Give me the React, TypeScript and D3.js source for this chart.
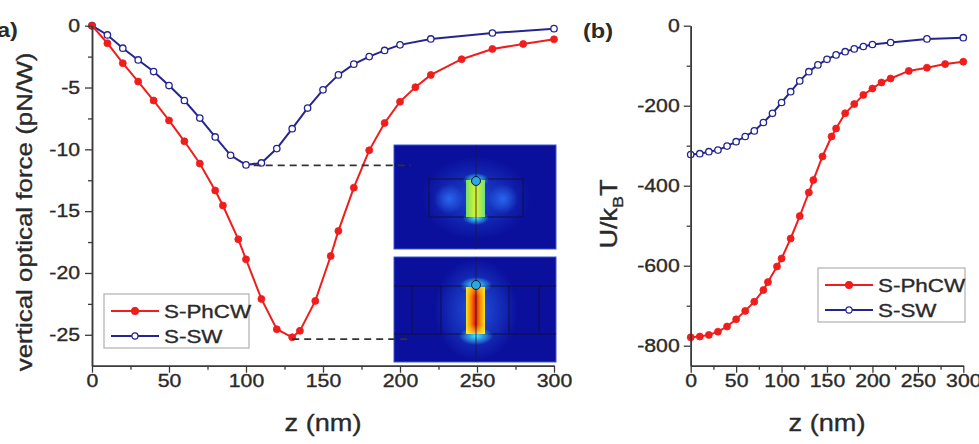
import React, { useRef, useEffect } from 'react'
import * as d3 from 'd3'

// z positions (nm)
const zSW = [0, 10, 20, 30, 40, 50, 60, 70, 80, 90, 100, 110, 120, 130, 140, 150, 160, 170, 180, 190, 200, 220, 260, 300]
const zPhCW = [0, 10, 20, 30, 40, 50, 60, 70, 80, 85, 95, 100, 110, 120, 130, 135, 145, 155, 160, 170, 180, 190, 200, 210, 220, 240, 260, 280, 300]

// (a) vertical optical force (pN/W)
const forceSW = [0, -0.75, -1.82, -2.77, -3.71, -4.84, -6.05, -7.47, -9.0, -10.48, -11.26, -11.1, -9.94, -8.33, -6.66, -5.19, -3.98, -3.11, -2.5, -2.0, -1.55, -1.07, -0.59, -0.24]
const forcePhCW = [0, -1.42, -3.03, -4.52, -6.05, -7.66, -9.35, -11.15, -13.33, -14.54, -17.28, -18.9, -22.1, -24.55, -25.2, -24.68, -22.26, -18.63, -16.6, -13.1, -10.08, -7.87, -6.15, -4.97, -3.98, -2.71, -1.88, -1.48, -1.1]

// (b) U/kBT
const potSW = [-322, -320, -315, -311, -301, -290, -277, -263, -242, -219, -192, -165, -138, -115, -98, -84, -73, -65, -58, -52, -47, -42, -33, -30]
const potPhCW = [-779, -777, -773, -765, -752, -734, -713, -690, -661, -641, -602, -582, -532, -476, -417, -386, -327, -277, -257, -219, -196, -173, -157, -142, -132, -113, -105, -96, -90]

const zTicks = [0, 50, 100, 150, 200, 250, 300]
const zMinor = [25, 75, 125, 175, 225, 275]
const forceTicks = [0, -5, -10, -15, -20, -25]
const forceMinor = [-2.5, -7.5, -12.5, -17.5, -22.5]
const potTicks = [0, -200, -400, -600, -800]
const potMinor = [-100, -300, -500, -700]

// dashed guides from the minima to the insets
const dashSW = { from: 105, to: 207, f: -11.3 }
const dashPhCW = { from: 130, to: 207, f: -25.35 }

const RED = '#f01d1d'
const BLUE = '#25258f'
const AXIS = '#3a3a3a'
const TEXT = '#2a2a2a'
const FONT = 'Arial, "Liberation Sans", sans-serif'
const SX = 1.18 // the figure's glyphs are wide
const HEAVY = 0.35 // the figure's text is a bit heavier than regular

const xA = d3.scaleLinear().domain([0, 300]).range([92, 554])
const yA = d3.scaleLinear().domain([-27.5, 0]).range([365.7, 25.7])
const xB = d3.scaleLinear().domain([0, 300]).range([690.7, 963.3])
const yB = d3.scaleLinear().domain([-850, 0]).range([365.7, 25.7])

function Txt({ x, y, size, rotate = 0, anchor = 'middle', weight = 'normal', children }: any) {
  return (
    <g transform={`translate(${x},${y}) rotate(${rotate}) scale(${SX},1)`}>
      <text textAnchor={anchor} fontSize={size} fontWeight={weight} fill={TEXT} stroke={TEXT}
        strokeWidth={weight === 'bold' ? 0 : HEAVY} fontFamily={FONT}>{children}</text>
    </g>
  )
}

function drawAxes(gx: SVGGElement, gy: SVGGElement, x: any, y: any, yMajor: number[], yMinor: number[], pad: number) {
  const sx = d3.select(gx), sy = d3.select(gy)
  sx.selectAll('*').remove()
  sy.selectAll('*').remove()
  sx.append('g').call(d3.axisBottom(x).tickValues(zMinor).tickSize(4).tickSizeOuter(0).tickFormat(() => ''))
  sx.append('g').call(d3.axisBottom(x).tickValues(zTicks).tickSize(7).tickSizeOuter(0).tickPadding(2).tickFormat((d: any) => String(d)))
  sy.append('g').call(d3.axisLeft(y).tickValues(yMinor).tickSize(4).tickSizeOuter(0).tickFormat(() => ''))
  sy.append('g').call(d3.axisLeft(y).tickValues(yMajor).tickSize(7).tickSizeOuter(0).tickPadding(pad).tickFormat((d: any) => String(d)))
  for (const s of [sx, sy]) {
    s.selectAll('.domain').attr('stroke', AXIS).attr('stroke-width', 1.5)
    s.selectAll('.tick line').attr('stroke', AXIS).attr('stroke-width', 1.3)
    s.selectAll('g').attr('font-family', FONT).attr('font-size', 18)
    s.selectAll('.tick text').attr('fill', TEXT).attr('stroke', TEXT).attr('stroke-width', HEAVY).each(function () {
      const t = d3.select(this as any)
      const tx = +t.attr('x') || 0
      t.attr('x', tx / SX).attr('transform', `scale(${SX},1)`)
    })
  }
}

function Series({ z, v, x, y, color, open }: any) {
  const line = d3.line<number>().x((_, i) => x(z[i])).y(d => y(d))
  return (
    <g>
      <path d={line(v) || ''} fill="none" stroke={color} strokeWidth={2} />
      {v.map((d: number, i: number) => (
        <circle key={i} cx={x(z[i])} cy={y(d)} r={open ? 3.2 : 3.5}
          fill={open ? '#fff' : color} stroke={color} strokeWidth={open ? 1.3 : 0.8} />
      ))}
    </g>
  )
}

function Legend({ x, y, w, h }: any) {
  const rows = [{ name: 'S-PhCW', color: RED, open: false }, { name: 'S-SW', color: BLUE, open: true }]
  return (
    <g>
      <rect x={x} y={y} width={w} height={h} fill="#fff" stroke="#b0b0b0" strokeWidth={1.2} />
      {rows.map((r, i) => {
        const cy = y + 17 + i * 25
        return (
          <g key={r.name}>
            <line x1={x + 7} x2={x + 55} y1={cy} y2={cy} stroke={r.color} strokeWidth={2} />
            <circle cx={x + 31} cy={cy} r={r.open ? 3.1 : 3.4} fill={r.open ? '#fff' : r.color} stroke={r.color} strokeWidth={1.2} />
            <Txt x={x + 60} y={cy + 7} size={19} anchor="start">{r.name}</Txt>
          </g>
        )
      })}
    </g>
  )
}

function Insets() {
  const cx = 476
  return (
    <g>
      <defs>
        <radialGradient id="glow">
          <stop offset="0%" stopColor="#2f78ff" stopOpacity={0.95} />
          <stop offset="100%" stopColor="#2f78ff" stopOpacity={0} />
        </radialGradient>
        <radialGradient id="cyan">
          <stop offset="0%" stopColor="#40e8ff" stopOpacity={1} />
          <stop offset="100%" stopColor="#40e8ff" stopOpacity={0} />
        </radialGradient>
        <linearGradient id="slotTop" x1="0" x2="1" y1="0" y2="0">
          <stop offset="0%" stopColor="#70e070" />
          <stop offset="40%" stopColor="#c8f038" />
          <stop offset="60%" stopColor="#d0f030" />
          <stop offset="100%" stopColor="#6ee080" />
        </linearGradient>
        <linearGradient id="slotBot" x1="0" x2="1" y1="0" y2="0">
          <stop offset="0%" stopColor="#f0e828" />
          <stop offset="25%" stopColor="#ff8a00" />
          <stop offset="50%" stopColor="#e01808" />
          <stop offset="75%" stopColor="#ff8a00" />
          <stop offset="100%" stopColor="#f0e828" />
        </linearGradient>
        <linearGradient id="slotBotV" x1="0" x2="0" y1="0" y2="1">
          <stop offset="0%" stopColor="#f8e020" stopOpacity={0.6} />
          <stop offset="20%" stopColor="#f8e020" stopOpacity={0} />
          <stop offset="80%" stopColor="#f8e020" stopOpacity={0} />
          <stop offset="100%" stopColor="#f8f040" stopOpacity={0.8} />
        </linearGradient>
      </defs>

      {/* upper field map */}
      <rect x={394} y={145} width={162} height={104} fill="#0a0f9c" stroke="#3a55d8" strokeWidth={1} />
      <ellipse cx={cx} cy={198} rx={55} ry={42} fill="url(#glow)" opacity={0.55} />
      <ellipse cx={449} cy={199} rx={15} ry={15} fill="url(#glow)" opacity={0.8} />
      <ellipse cx={503} cy={199} rx={15} ry={15} fill="url(#glow)" opacity={0.8} />
      <rect x={429} y={179} width={94} height={38} fill="none" stroke="#101040" strokeWidth={1} />
      <ellipse cx={cx} cy={180} rx={13} ry={7} fill="url(#cyan)" />
      <ellipse cx={cx} cy={218} rx={13} ry={7} fill="url(#cyan)" />
      <rect x={466} y={180} width={19} height={37} fill="url(#slotTop)" />
      <line x1={cx} x2={cx} y1={145} y2={249} stroke="#1a1a40" strokeWidth={0.8} />
      <circle cx={cx} cy={181} r={4.5} fill="#2aa8e0" stroke="#101030" strokeWidth={1} />

      {/* lower field map */}
      <rect x={394} y={257} width={162} height={105} fill="#0a0f9c" stroke="#3a55d8" strokeWidth={1} />
      <ellipse cx={cx} cy={310} rx={42} ry={52} fill="url(#glow)" opacity={0.7} />
      <line x1={394} x2={556} y1={286} y2={286} stroke="#101040" strokeWidth={1} />
      <line x1={394} x2={556} y1={334} y2={334} stroke="#101040" strokeWidth={1} />
      {[412, 441, 509, 539].map(px => (
        <line key={px} x1={px} x2={px} y1={286} y2={334} stroke="#101040" strokeWidth={1} />
      ))}
      <ellipse cx={cx} cy={285} rx={16} ry={8} fill="url(#cyan)" />
      <ellipse cx={cx} cy={336} rx={17} ry={9} fill="url(#cyan)" />
      <rect x={466} y={287} width={19} height={47} fill="url(#slotBot)" />
      <rect x={466} y={287} width={19} height={47} fill="url(#slotBotV)" />
      <line x1={cx} x2={cx} y1={257} y2={362} stroke="#1a1a40" strokeWidth={0.8} />
      <circle cx={cx} cy={285} r={4.5} fill="#2aa8e0" stroke="#101030" strokeWidth={1} />
    </g>
  )
}

export default function App() {
  const axA = useRef<SVGGElement>(null)
  const ayA = useRef<SVGGElement>(null)
  const axB = useRef<SVGGElement>(null)
  const ayB = useRef<SVGGElement>(null)

  useEffect(() => {
    drawAxes(axA.current!, ayA.current!, xA, yA, forceTicks, forceMinor, 5)
    drawAxes(axB.current!, ayB.current!, xB, yB, potTicks, potMinor, 4)
  }, [])

  return (
    <svg width={979} height={444} style={{ position: 'absolute', left: 0, top: 0, background: '#fff' }}>
      <rect width={979} height={444} fill="#fff" />

      {/* panel (a) */}
      <Series z={zSW} v={forceSW} x={xA} y={yA} color={BLUE} open />
      <Series z={zPhCW} v={forcePhCW} x={xA} y={yA} color={RED} open={false} />
      <Insets />
      {[dashSW, dashPhCW].map((d, i) => (
        <line key={i} x1={xA(d.from)} x2={xA(d.to)} y1={yA(d.f)} y2={yA(d.f)}
          stroke="#333" strokeWidth={1.7} strokeDasharray="7,5" />
      ))}
      <g ref={axA} transform={`translate(0,${yA(-27.5)})`} />
      <g ref={ayA} transform={`translate(${xA(0)},0)`} />
      <Legend x={104} y={294} w={145} h={54} />
      <Txt x={32} y={212} size={22} rotate={-90}>vertical optical force (pN/W)</Txt>
      <Txt x={xA(150)} y={431} size={23}>z (nm)</Txt>
      <Txt x={-3} y={37} size={20} weight="bold" anchor="start">a)</Txt>

      {/* panel (b) */}
      <Series z={zSW} v={potSW} x={xB} y={yB} color={BLUE} open />
      <Series z={zPhCW} v={potPhCW} x={xB} y={yB} color={RED} open={false} />
      <g ref={axB} transform={`translate(0,${yB(-850)})`} />
      <g ref={ayB} transform={`translate(${xB(0)},0)`} />
      <Legend x={818} y={268} w={147} h={54} />
      <g transform={`translate(617,214) rotate(-90) scale(${SX},1)`}>
        <text textAnchor="middle" fontSize={23} fill={TEXT} stroke={TEXT} strokeWidth={HEAVY} fontFamily={FONT}>
          U/k<tspan fontSize={15} dy={6}>B</tspan><tspan dy={-6}>T</tspan>
        </text>
      </g>
      <Txt x={xB(150)} y={431} size={23}>z (nm)</Txt>
      <Txt x={583} y={38} size={20} weight="bold" anchor="start">(b)</Txt>
    </svg>
  )
}
